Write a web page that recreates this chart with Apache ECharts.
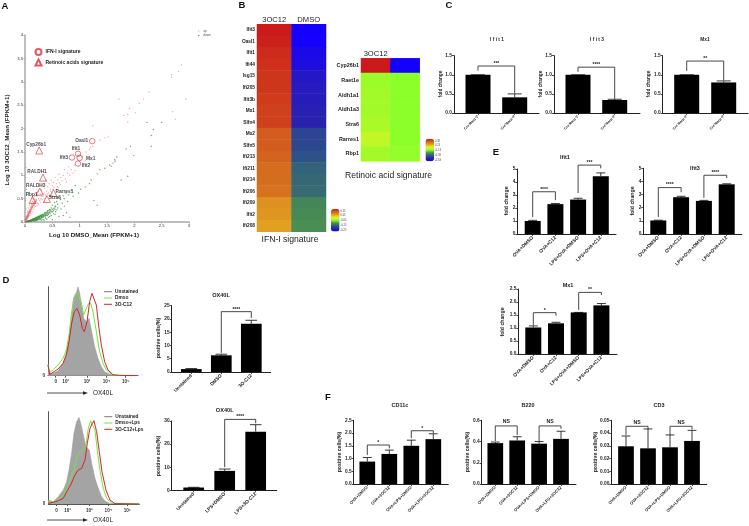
<!DOCTYPE html>
<html><head><meta charset="utf-8">
<style>html,body{margin:0;padding:0;background:#fff}#c{width:749px;height:526px;filter:blur(0.4px)}</style>
<script src="https://cdn.jsdelivr.net/npm/echarts@6/dist/echarts.min.js"></script>
</head><body><div id="c"></div>
<script>
// ---------- Panel A data ----------
const scatterUp = [[2.86,3.36],[2.81,3.22],[2.68,3.15],[2.68,3.1],[2.94,2.63],[2.27,2.78],[2.17,2.63],[2.09,2.54],[1.72,2.63],[1.91,2.43],[2.02,2.34],[1.81,2.28],[1.88,2.3],[1.88,2.14],[2.7,2.36],[2.75,2.2],[1.24,2.06],[1.52,1.82],[1.46,1.8],[1.37,1.75],[1.24,1.62],[1.18,1.55],[1.12,1.5],[0.97,1.43],[1.1,1.32],[1.2,1.6],[1.05,1.4],
[0.9,1.22],[0.85,1.12],[0.8,1.18],[0.78,1.05],[0.72,1.12],[0.7,1.0],[0.66,0.95],[0.62,1.02],[0.6,0.9],[0.58,0.82],[0.55,0.95],[0.52,0.85],[0.5,0.78],[0.48,0.9],[0.46,0.7],[0.44,0.82],[0.42,0.75],[0.4,0.66],[0.38,0.88],[0.36,0.72],[0.34,0.6],[0.32,0.8],[0.3,0.68],[0.3,0.55],[0.28,0.6],[0.26,0.78],[0.25,0.5],[0.24,0.66],[0.22,0.56],[0.2,0.48],[0.2,0.62],[0.18,0.42],[0.18,0.55],[0.16,0.38],[0.16,0.48],[0.14,0.34],[0.14,0.44],[0.12,0.3],[0.12,0.38],[0.1,0.24],[0.1,0.32],[0.09,0.2],[0.08,0.26],[0.07,0.18],[0.06,0.22],[0.06,0.14],[0.05,0.16],[0.04,0.1],[0.04,0.14],[0.03,0.08],[0.03,0.12],[0.02,0.05],[0.02,0.09],[0.01,0.03],[0.01,0.06],[0.02,0.28],[0.01,0.46],[0.03,0.7],[0.01,0.95],[0.02,1.16],
[0.15,0.5],[0.17,0.36],[0.19,0.4],[0.21,0.44],[0.23,0.4],[0.27,0.46],[0.29,0.5],[0.31,0.48],[0.33,0.54],[0.35,0.5],[0.37,0.58],[0.39,0.54],[0.41,0.6],[0.43,0.62],[0.45,0.58],[0.47,0.66],[0.49,0.62],[0.51,0.7],[0.53,0.74],[0.57,0.7],[0.59,0.76],[0.61,0.74],[0.63,0.84],[0.65,0.8],[0.68,0.88],[0.74,0.92],[0.76,0.86],[0.82,1.0],[0.88,1.05],[0.92,1.1],[0.13,0.22],[0.15,0.26],[0.17,0.3],[0.19,0.33],[0.11,0.18],[0.09,0.14],[0.07,0.11],[0.05,0.08],[0.11,0.42],[0.13,0.52],[0.08,0.36],[0.06,0.3],[0.05,0.24],[0.04,0.2],[0.22,0.35],[0.25,0.38],[0.28,0.42],[0.35,0.44]];
const scatterUpBand = [[0.01,0.02],[0.01,0.04],[0.015,0.03],[0.015,0.06],[0.02,0.04],[0.02,0.07],[0.025,0.05],[0.025,0.08],[0.03,0.06],[0.03,0.1],[0.035,0.07],[0.035,0.11],[0.04,0.09],[0.04,0.12],[0.045,0.1],[0.045,0.13],[0.05,0.11],[0.05,0.14],[0.055,0.12],[0.055,0.16],[0.06,0.13],[0.06,0.17],[0.065,0.15],[0.065,0.18],[0.07,0.15],[0.07,0.2],[0.075,0.17],[0.075,0.21],[0.08,0.18],[0.08,0.22],[0.085,0.19],[0.085,0.23],[0.09,0.2],[0.09,0.25],[0.095,0.22],[0.095,0.26],[0.1,0.23],[0.1,0.28],[0.105,0.24],[0.11,0.26],[0.11,0.3],[0.115,0.27],[0.12,0.28],[0.12,0.33],[0.125,0.3],[0.13,0.31],[0.13,0.35],[0.135,0.32],[0.14,0.33],[0.14,0.38],[0.15,0.35],[0.15,0.4],[0.16,0.36],[0.16,0.42],[0.17,0.39],[0.17,0.44],[0.18,0.41],[0.19,0.44],[0.2,0.46],[0.21,0.47]];
const scatterDown = [[2.23,2.13],[2.5,2.13],[2.35,1.98],[2.31,1.85],[2.31,1.62],[1.93,1.62],[1.85,1.56],[1.99,1.42],[1.68,1.39],[1.64,1.33],[1.61,1.26],[1.58,1.19],[1.46,1.15],[1.37,1.12],[1.32,1.03],[1.21,0.9],[1.76,0.9],[1.88,0.98],[1.26,0.46],[1.32,0.36],[1.65,1.3],[1.55,1.22],[1.18,0.82],[1.1,0.75],[1.02,0.7],[0.98,0.62],[0.92,0.78],[0.88,0.55],[0.85,0.68],[0.8,0.58],[0.78,0.44],[0.75,0.62],[0.72,0.5],[0.7,0.56],[0.68,0.4],[0.65,0.48],[0.62,0.52],[0.6,0.38],[0.6,0.3],[0.58,0.44],[0.55,0.34],[0.54,0.42],[0.52,0.28],[0.5,0.36],[0.5,0.22],[0.48,0.3],[0.47,0.24],[0.45,0.27],[0.44,0.2],[0.42,0.24],[0.42,0.17],[0.4,0.21],[0.38,0.18],[0.38,0.14],[0.36,0.2],[0.35,0.15],[0.34,0.11],[0.32,0.16],[0.31,0.13],[0.3,0.09],[0.29,0.14],[0.28,0.11],[0.27,0.08],[0.26,0.12],[0.25,0.09],[0.24,0.06],[0.23,0.1],[0.22,0.08],[0.21,0.05],[0.2,0.09],[0.19,0.07],[0.18,0.04],[0.17,0.07],[0.16,0.05],[0.15,0.03],[0.14,0.06],[0.13,0.04],[0.12,0.02],[0.11,0.04],[0.1,0.03],[0.09,0.02],[0.08,0.03],[0.07,0.015],[0.06,0.02],[0.05,0.01],[0.04,0.01],[0.03,0.01],[0.3,0.03],[0.35,0.04],[0.4,0.06],[0.5,0.05],[0.62,0.12],[0.7,0.14],[0.82,0.1],[0.45,0.12],[0.55,0.16],[0.33,0.05],[0.38,0.08],[0.43,0.1],[0.48,0.14],[0.52,0.18],[0.56,0.22],[0.58,0.26],[0.46,0.18],[0.41,0.14],[0.37,0.11],[0.33,0.09],[0.29,0.06],[0.26,0.05],[0.23,0.04],[0.21,0.03],[0.19,0.03],[0.17,0.02],[0.66,0.28],[0.72,0.34],[0.76,0.2]];
const scatterDownBand = [[0.02,0.005],[0.04,0.015],[0.05,0.025],[0.06,0.01],[0.07,0.03],[0.08,0.015],[0.09,0.035],[0.1,0.015],[0.1,0.045],[0.11,0.025],[0.12,0.05],[0.13,0.025],[0.13,0.06],[0.14,0.035],[0.15,0.065],[0.15,0.045],[0.16,0.03],[0.16,0.07],[0.17,0.045],[0.18,0.08],[0.18,0.06],[0.19,0.045],[0.2,0.07],[0.2,0.1],[0.21,0.06],[0.21,0.09],[0.22,0.05],[0.22,0.11],[0.23,0.075],[0.24,0.12],[0.24,0.09],[0.25,0.06],[0.25,0.12],[0.26,0.09],[0.27,0.13],[0.27,0.105],[0.28,0.07],[0.28,0.14],[0.29,0.11],[0.3,0.15],[0.3,0.12],[0.31,0.09],[0.32,0.13],[0.33,0.16],[0.33,0.12],[0.34,0.14],[0.35,0.18],[0.36,0.13],[0.37,0.16],[0.38,0.2],[0.39,0.15],[0.4,0.18],[0.41,0.23],[0.42,0.2],[0.43,0.16],[0.44,0.24],[0.45,0.21],[0.46,0.26],[0.48,0.22],[0.5,0.27],[0.52,0.24],[0.54,0.3],[0.55,0.27],[0.56,0.33]];
const ifnGenes = ['Oasl1','Ifit1','Ifit3','Mx1','Ifit2'];
const ifnX = [1.23,0.97,0.86,1.0,0.97];
const ifnY = [1.73,1.46,1.38,1.37,1.25];
const raGenes = ['Cyp26b1','RALDH1','RALDH3','Rbp1','Rarres1','Stra6'];
const raX = [0.26,0.33,0.27,0.14,0.52,0.4];
const raY = [1.53,0.95,0.65,0.47,0.62,0.49];

// ---------- Panel B data ----------
const bigGenes = ['Ifit3','Oasl1','Ifit1','Ifi44','Isg15','Ifi205','Ifit3b','Mx1','Slfn4','Mx2','Slfn5','Ifi213','Ifi211','Ifi214','Ifi206','Ifi209','Ifit2','Ifi208'];
const big3OC12 = [1,0.99,0.97,0.96,0.95,0.95,0.94,0.93,0.93,0.88,0.88,0.87,0.85,0.85,0.84,0.78,0.77,0.75];
const bigDMSO = [0,0.005,0.04,0.05,0.09,0.1,0.11,0.12,0.13,0.2,0.21,0.23,0.27,0.28,0.29,0.35,0.36,0.37];
const smallGenes = ['Cyp26b1','Raet1e','Aldh1a1','Aldh1a3','Stra6','Rarres1','Rbp1'];
const small3OC12 = [1,0.52,0.53,0.53,0.54,0.57,0.53];
const smallDMSO = [0,0.5,0.5,0.5,0.5,0.5,0.51];
const heatCols = ['3OC12','DMSO'];

// ---------- Panel C data ----------
const creCats = ['Cre⁻Rarα ᶠ/ᶠ','Cre⁺Rarα ᶠ/ᶠ'];
const cIfit1 = [1,0.41], cIfit1Err = [1,0.5];
const cIfit3 = [1,0.34], cIfit3Err = [1,0.36];
const cMx1 = [1,0.8], cMx1Err = [1,0.84];

// ---------- Panel D data ----------
const ox1Cats = ['Unstained','DMSO','3O-C12'];
const ox1 = [1.1,6.3,18.2], ox1Err = [1.3,6.7,19.5];
const ox2Cats = ['Unstained','LPS+DMSO','LPS+3O-C12'];
const ox2 = [1.2,8.4,25.4], ox2Err = [1.3,9.2,28.4];
const histTicks = ['0','10²','10³','10⁴','10⁵'];
const hist1Gray = [[0,32],[5,7],[15,7],[30,14],[45,37],[55,67],[63,112],[70,172],[77,232],[85,247],[90,267],[95,247],[101,212],[107,172],[115,162],[123,172],[130,137],[140,87],[150,52],[160,27],[170,12],[185,4],[200,1],[270,0]];
const hist1Green = [[0,34],[5,10],[15,17],[30,32],[45,52],[55,77],[63,122],[70,182],[77,232],[83,247],[91,244],[100,217],[107,182],[113,182],[120,214],[127,220],[135,192],[145,132],[155,72],[165,37],[175,17],[190,4],[205,1],[270,0]];
const hist1Red = [[0,32],[5,4],[15,10],[30,20],[45,37],[55,62],[63,102],[71,157],[79,192],[87,202],[95,182],[103,142],[109,132],[117,162],[125,222],[132,247],[138,244],[145,212],[153,142],[160,92],[170,42],[180,17],[195,3],[215,1],[270,0]];
const hist2Gray = [[0,12],[15,7],[30,22],[45,42],[55,67],[63,107],[70,152],[77,212],[85,247],[92,260],[100,232],[107,197],[113,172],[123,162],[130,122],[140,77],[150,47],[160,22],[170,9],[185,1],[273,0]];
const hist2Green = [[0,7],[15,7],[30,14],[45,24],[55,47],[65,72],[77,102],[87,142],[95,157],[105,162],[113,177],[120,227],[127,250],[133,252],[140,222],[147,162],[155,102],[165,47],[175,17],[190,3],[205,1],[273,0]];
const hist2Red = [[0,2],[15,5],[30,10],[45,17],[55,37],[67,57],[80,87],[90,102],[100,107],[110,132],[117,182],[125,227],[132,242],[137,250],[145,217],[153,157],[161,97],[173,42],[185,12],[200,1],[273,0]];

// ---------- Panel E data ----------
const eCats = ['OVA+DMSO','OVA+C12','LPS+OVA+DMSO','LPS+OVA+C12'];
const eIfit1 = [1,2.3,2.65,4.45], eIfit1Err = [1.05,2.35,2.75,4.7];
const eIfit3 = [1.03,2.8,2.52,3.78], eIfit3Err = [1.05,2.87,2.56,3.82];
const eMx1 = [1.02,1.18,1.6,1.87], eMx1Err = [1.08,1.22,1.6,1.94];

// ---------- Panel F data ----------
const fCats = ['OVA+DMSO','OVA+3OC12','OVA+LPS+DMSO','OVA+LPS+3OC12'];
const fCD11c = [0.88,1.18,1.5,1.76], fCD11cErr = [1.04,1.33,1.72,1.97];
const fB220 = [0.385,0.41,0.38,0.425], fB220Err = [0.395,0.445,0.4,0.497];
const fCD3 = [0.0296,0.028,0.0288,0.0338], fCD3Err = [0.0377,0.0432,0.0385,0.0421];

// ---------- builders ----------
const FONT = 'Liberation Sans, Arial, sans-serif';
const option = {animation:false, backgroundColor:'#fff', grid:[], xAxis:[], yAxis:[], series:[], title:[], legend:[], visualMap:[], graphic:[]};
function addGrid(g,x,y){ const i=option.grid.length; option.grid.push(g); x.gridIndex=i; y.gridIndex=i; option.xAxis.push(x); option.yAxis.push(y); return i; }
function text(t,x,y,size,o){ option.graphic.push(Object.assign({type:'text',x,y,silent:true,style:Object.assign({text:t,fontSize:size,fontFamily:FONT,fontWeight:'bold',fill:'#222',align:'center',verticalAlign:'middle'},o||{})})); }
function rtext(t,x,y,size){ option.graphic.push({type:'text',x,y,rotation:Math.PI/2,silent:true,style:{text:t,fontSize:size,fontFamily:FONT,fontWeight:'bold',fill:'#222',align:'center',verticalAlign:'middle'}}); }

function barPanel(c){
  const sp=c.sp;
  const xmin=1-(c.c1-c.axL)/sp, xmax=1+(c.axR-c.c1)/sp;
  const xs=c.cats.map((_,i)=>i+1);
  const i=addGrid({left:c.axL,top:c.yTop,width:c.axR-c.axL,height:c.y0-c.yTop},
   {type:'value',min:xmin,max:xmax,splitLine:{show:false},
    axisLine:{lineStyle:{color:'#222',width:1}},
    axisTick:{customValues:xs,length:2,lineStyle:{color:'#222',width:0.8}},
    axisLabel:{customValues:xs,rotate:45,fontSize:c.xFont||4.8,fontWeight:'bold',fontFamily:FONT,color:'#222',margin:3,formatter:v=>c.cats[Math.round(v)-1]}},
   {type:'value',min:0,max:c.max,interval:c.int,splitLine:{show:false},
    axisLine:{show:true,lineStyle:{color:'#222',width:1}},
    axisTick:{show:true,length:2,lineStyle:{color:'#222',width:0.8}},
    axisLabel:{fontSize:4.8,fontWeight:'bold',fontFamily:FONT,color:'#222',margin:2,formatter:v=>v.toFixed(c.dec)}});
  option.series.push({type:'bar',xAxisIndex:i,yAxisIndex:i,barWidth:c.bw,data:c.vals.map((v,k)=>[k+1,v]),itemStyle:{color:'#000'},silent:true});
  option.series.push({type:'custom',xAxisIndex:i,yAxisIndex:i,silent:true,clip:false,
    data:c.errs.map((e,k)=>[k+1,c.vals[k],e]),
    renderItem:(p,api)=>{const a=api.coord([api.value(0),api.value(1)]),b=api.coord([api.value(0),api.value(2)]),h=c.bw*0.28;
      const s={stroke:'#222',lineWidth:0.9};
      return {type:'group',children:[{type:'line',shape:{x1:a[0],y1:a[1],x2:b[0],y2:b[1]},style:s},{type:'line',shape:{x1:b[0]-h,y1:b[1],x2:b[0]+h,y2:b[1]},style:s}]};}});
  option.series.push({type:'custom',xAxisIndex:i,yAxisIndex:i,silent:true,clip:false,
    data:c.br.map(b=>b.slice(0,5)),
    renderItem:(p,api)=>{const x1=api.value(0),x2=api.value(1),t=api.value(2),l=api.value(3),r=api.value(4);
      const A=api.coord([x1,l]),B=api.coord([x1,t]),C=api.coord([x2,t]),D=api.coord([x2,r]);
      return {type:'group',children:[{type:'polyline',shape:{points:[A,B,C,D]},style:{stroke:'#333',lineWidth:0.9,fill:null}},
        {type:'text',x:(B[0]+C[0])/2,y:B[1]-(c.brGap||2.5),style:{text:c.br[p.dataIndex][5],fontSize:c.brFont||5,fontWeight:'bold',fontFamily:FONT,fill:'#222',align:'center',verticalAlign:'middle'}}]};}});
  text(c.title,c.tx,c.ty,c.tFont||5.5,c.tOpt);
  if(c.yName) rtext(c.yName,c.nx,c.ny,c.nFont||5.2);
}

// ---------- Panel A ----------
const aIdx=addGrid({left:25,top:35,width:164,height:187},
 {type:'value',min:0,max:3,interval:0.5,splitLine:{show:false},axisLine:{lineStyle:{color:'#a8a8a8',width:1.5}},axisTick:{length:1.5,lineStyle:{color:'#a8a8a8'}},axisLabel:{fontSize:4.2,fontFamily:FONT,color:'#333',margin:2,formatter:v=>String(v)}},
 {type:'value',min:0,max:4,interval:0.5,splitLine:{show:false},axisLine:{show:true,lineStyle:{color:'#a8a8a8',width:1.5}},axisTick:{show:true,length:1.5,lineStyle:{color:'#a8a8a8'}},axisLabel:{fontSize:4.2,fontFamily:FONT,color:'#333',margin:2,formatter:v=>String(v)}});
option.series.push({name:'up',type:'scatter',xAxisIndex:aIdx,yAxisIndex:aIdx,data:scatterUp.concat(scatterUpBand),symbolSize:1.4,itemStyle:{color:'#e8606a',opacity:0.55},silent:true});
option.series.push({name:'down',type:'scatter',xAxisIndex:aIdx,yAxisIndex:aIdx,data:scatterDown.concat(scatterDownBand),symbolSize:1.4,itemStyle:{color:'#2f8a2f',opacity:0.75},silent:true});
const ifnOffsets=[[-10.5,0],[-2,-5],[-8,0],[11,1],[8,2]];
const raOffsets=[[-3,-6],[-6,-6],[-4,-6],[-1,-5],[11,-1],[8,-1]];
function markers(name,sym,genes,xs,ys,offs,size){
  option.series.push({name,type:'scatter',xAxisIndex:aIdx,yAxisIndex:aIdx,symbol:sym,symbolSize:size,silent:true,
    itemStyle:{color:'rgba(255,255,255,0)',borderColor:'#d5313a',borderWidth:0.8},
    data:genes.map((g,i)=>({name:g,value:[xs[i],ys[i]],label:{show:true,position:'inside',formatter:'{b}',offset:offs[i],fontSize:4.8,fontWeight:'bold',fontFamily:FONT,color:'#222'}}))});
}
markers('IFN-I signature','circle',ifnGenes,ifnX,ifnY,ifnOffsets,5.5);
markers('Retinoic acids signature','triangle',raGenes,raX,raY,raOffsets,7);
option.legend.push({data:['IFN-I signature','Retinoic acids signature'],left:34.5,top:48,orient:'vertical',itemWidth:6,itemHeight:6,itemGap:2.5,padding:0,selectedMode:false,textStyle:{fontSize:5,fontWeight:'bold',fontFamily:FONT,color:'#222',padding:[0,0,0,-1]}});
option.legend.push({data:['up','down'],left:198,top:29.5,orient:'vertical',itemWidth:3,itemHeight:1.5,itemGap:1.5,padding:0,selectedMode:false,textStyle:{fontSize:3.2,fontFamily:FONT,color:'#555',padding:[0,0,0,-2]}});
text('Log 10 DMSO_Mean (FPKM+1)',94,235,6.2);
rtext('Log 10 3OC12_Mean (FPKM+1)',7,140,6.2);

// ---------- Panel B ----------
const heatColors=['#1500ff','#2a20b0','#2f5a80','#4a9050','#8cff2a','#e8f020','#e2a020','#d2601f','#cc1a1a'];
function heat(left,top,w,h,genes,c1,c2,lgL,lgT,lgH,font){
  const i=addGrid({left,top,width:w,height:h},
   {type:'category',data:heatCols,position:'top',axisLine:{show:false},axisTick:{show:false},axisLabel:{fontSize:7.6,fontFamily:FONT,color:'#222',margin:0.5}},
   {type:'category',data:genes,inverse:true,axisLine:{show:false},axisTick:{show:false},axisLabel:{fontSize:font,fontWeight:'bold',fontFamily:FONT,color:'#222',margin:2}});
  const data=[]; genes.forEach((g,k)=>{data.push([0,k,c1[k]]);data.push([1,k,c2[k]]);});
  const si=option.series.length;
  option.series.push({type:'heatmap',xAxisIndex:i,yAxisIndex:i,data,silent:true,progressive:0});
  option.visualMap.push({type:'continuous',seriesIndex:si,min:0,max:1,dimension:2,left:lgL,top:lgT,itemWidth:8.5,itemHeight:lgH,calculable:false,text:null,padding:0,showLabel:false,inRange:{color:heatColors},textStyle:{fontSize:1,color:'rgba(0,0,0,0)'},formatter:()=>''});
}
heat(257,24.3,69,207.4,bigGenes,big3OC12,bigDMSO,331,209,22.5,4.8);
heat(361,58.3,58.7,103,smallGenes,small3OC12,smallDMSO,425.5,138.7,22.5,5.4);
['0.15','0.05','-0.05','-0.15','-0.25'].forEach((t,i)=>text(t,340.5,211+i*4.7,2.6,{align:'left',fontWeight:'normal',fill:'#444'}));
['0.38','0.13','-0.13','-0.38','-0.63'].forEach((t,i)=>text(t,435,141+i*4.7,2.6,{align:'left',fontWeight:'normal',fill:'#444'}));
text('IFN-I signature',290,240,8.6,{fontWeight:'normal'});
text('Retinoic acid signature',388.5,176,8.6,{fontWeight:'normal'});

// ---------- Panel C ----------
const creShared={cats:creCats,sp:36.7,bw:25,yTop:55.7,y0:113,max:1.5,int:0.5,dec:1,xFont:3.6,ty:40,brFont:5,tFont:4.8,nFont:4.8,ny:84};
barPanel(Object.assign({},creShared,{axL:454,axR:539,c1:478,vals:cIfit1,errs:cIfit1Err,title:'I f i t 1',tx:497,yName:'fold change',nx:441,br:[[1,2,1.23,1.11,0.52,'***']]}));
barPanel(Object.assign({},creShared,{axL:554,axR:640,c1:578,vals:cIfit3,errs:cIfit3Err,title:'I f i t 3',tx:597,yName:'fold change',nx:540.5,br:[[1,2,1.2,1.08,0.37,'****']]}));
barPanel(Object.assign({},creShared,{axL:662.7,axR:748,c1:686.7,sp:37,vals:cMx1,errs:cMx1Err,title:'Mx1',tx:705,yName:'fold change',nx:649,br:[[1,2,1.36,1.1,0.86,'**']]}));

// ---------- Panel D histograms ----------
function histPanel(left,top,w,h,cmax,ymax,ticks,gray,green,red,names){
  const lab=histTicks;
  const i=addGrid({left,top,width:w,height:h},
   {type:'value',min:0,max:cmax,splitLine:{show:false},axisLine:{lineStyle:{color:'#555',width:1}},
    axisTick:{customValues:ticks,length:2,lineStyle:{color:'#555'}},
    axisLabel:{customValues:ticks,fontSize:4.6,fontWeight:'bold',fontFamily:FONT,color:'#333',margin:4,formatter:v=>lab[ticks.indexOf(v)]}},
   {type:'value',min:0,max:ymax,splitLine:{show:false},axisLine:{show:true,lineStyle:{color:'#555',width:1}},
    axisTick:{show:false},axisLabel:{customValues:[0],fontSize:4.6,fontWeight:'bold',fontFamily:FONT,color:'#333',margin:3}});
  const common={type:'line',xAxisIndex:i,yAxisIndex:i,showSymbol:false,silent:true,symbol:'none'};
  option.series.push(Object.assign({},common,{name:names[0],data:gray,lineStyle:{color:'#a0a0a0',width:0.6},itemStyle:{color:'#777'},areaStyle:{color:'#a4a4a4',opacity:1}}));
  option.series.push(Object.assign({},common,{name:names[1],data:green,lineStyle:{color:'#6ee83a',width:1},itemStyle:{color:'#6ee83a'}}));
  option.series.push(Object.assign({},common,{name:names[2],data:red,lineStyle:{color:'#d8232e',width:1},itemStyle:{color:'#d8232e'}}));
  option.legend.push({data:names,left:left+56,top:top+2.5,orient:'vertical',icon:'rect',itemWidth:8,itemHeight:1,itemGap:1.3,padding:[0,0,0,0],selectedMode:false,textStyle:{fontSize:4.8,fontWeight:'bold',fontFamily:FONT,color:'#222',padding:[0,0,0,-2]}});
}
histPanel(48,286.7,90,89,270,267,[23,53,117,175,233],hist1Gray,hist1Green,hist1Red,['Unstained','Dmso','3O-C12']);
histPanel(48.3,411.7,91,92.3,273,277,[25,58,123,180,237],hist2Gray,hist2Green,hist2Red,['Unstained ','Dmso+Lps','3O-C12+Lps']);
[393,520].forEach(y=>{
  option.graphic.push({type:'line',shape:{x1:47,y1:y,x2:85,y2:y},style:{stroke:'#222',lineWidth:0.8},silent:true});
  option.graphic.push({type:'polygon',shape:{points:[[88,y],[83,y-1.7],[83,y+1.7]]},style:{fill:'#222'},silent:true});
  text('OX40L',103,y,6.4,{fontWeight:'normal'});
});

// ---------- Panel D bars ----------
barPanel({cats:ox1Cats,sp:30,c1:191.3,axL:171.7,axR:270.7,bw:20.7,yTop:305.7,y0:372,max:25,int:5,dec:0,vals:ox1,errs:ox1Err,title:'OX40L',tx:221,ty:295,tFont:5.6,yName:'positive cells(%)',nx:159,ny:338,br:[[2,3,22.75,7.2,20.4,'****']],xFont:4.8});
barPanel({cats:ox2Cats,sp:31,c1:193.7,axL:171.7,axR:276.7,bw:20.7,yTop:421,y0:490.3,max:30,int:10,dec:0,vals:ox2,errs:ox2Err,title:'OX40L',tx:224.7,ty:410,tFont:5.6,yName:'positive cells(%)',nx:159,ny:456,br:[[2,3,30.7,10,29,'****']],xFont:4.8});

// ---------- Panel E ----------
barPanel({cats:eCats,sp:22.7,c1:532.7,axL:517.3,axR:616,bw:16,yTop:169,y0:234,max:5,int:1,dec:0,vals:eIfit1,errs:eIfit1Err,title:'Ifit1',tx:565,ty:157.7,yName:'fold change',nx:507,ny:201,br:[[1,2,3.25,1.3,2.6,'****'],[3,4,5.3,3.15,5.05,'***']]});
barPanel({cats:eCats,sp:22.8,c1:658.3,axL:643.3,axR:741.7,bw:16,yTop:168.3,y0:234,max:5,int:1,dec:0,vals:eIfit3,errs:eIfit3Err,title:'Ifit3',tx:695,ty:168,yName:'fold change',nx:633,ny:201,br:[[1,2,3.53,1.3,3.18,'****'],[3,4,4.47,2.75,4.25,'****']]});
barPanel({cats:eCats,sp:22.7,c1:533.3,axL:518.3,axR:617,bw:16,yTop:289,y0:354,max:2.5,int:0.5,dec:1,vals:eMx1,errs:eMx1Err,title:'Mx1',tx:568,ty:285,yName:'fold change',nx:502.5,ny:322,br:[[1,2,1.59,1.11,1.47,'*'],[3,4,2.37,1.69,2.27,'**']]});

// ---------- Panel F ----------
barPanel({cats:fCats,sp:22,c1:367.3,axL:353.7,axR:448.3,bw:15.7,yTop:420.3,y0:484,max:2.5,int:0.5,dec:1,vals:fCD11c,errs:fCD11cErr,title:'CD11c',tx:400,ty:405.7,yName:'positive cells(%)',nx:339.5,ny:452,xFont:4.2,br:[[1,2,1.53,1.14,1.4,'*'],[3,4,2.09,1.8,2.0,'*']]});
barPanel({cats:fCats,sp:21.9,c1:495.3,axL:481.7,axR:576,bw:15.7,yTop:420.3,y0:484,max:0.6,int:0.2,dec:1,vals:fB220,errs:fB220Err,title:'B220',tx:528,ty:405.7,yName:'positive cells(%)',nx:467.5,ny:452,xFont:4.2,brFont:5.2,brGap:4,br:[[1,2,0.547,0.405,0.46,'NS'],[3,4,0.547,0.405,0.52,'NS']]});
barPanel({cats:fCats,sp:22,c1:626,axL:611.3,axR:706.7,bw:15.7,yTop:420.3,y0:484,max:0.05,int:0.01,dec:2,vals:fCD3,errs:fCD3Err,title:'CD3',tx:659,ty:405.7,yName:'positive cells(%)',nx:595.5,ny:452,xFont:4.2,brFont:5.2,brGap:4,br:[[1,2,0.0453,0.0385,0.043,'NS'],[3,4,0.0453,0.0385,0.0427,'NS']]});

// ---------- Panel letters ----------
[['A',5,6],['B',242,5],['C',449,5],['D',6,280],['E',496,152],['F',328,397]].forEach(a=>text(a[0],a[1],a[2],9.5,{fill:'#111'}));

echarts.init(document.getElementById('c'),null,{renderer:'canvas'}).setOption(option);
</script></body></html>
